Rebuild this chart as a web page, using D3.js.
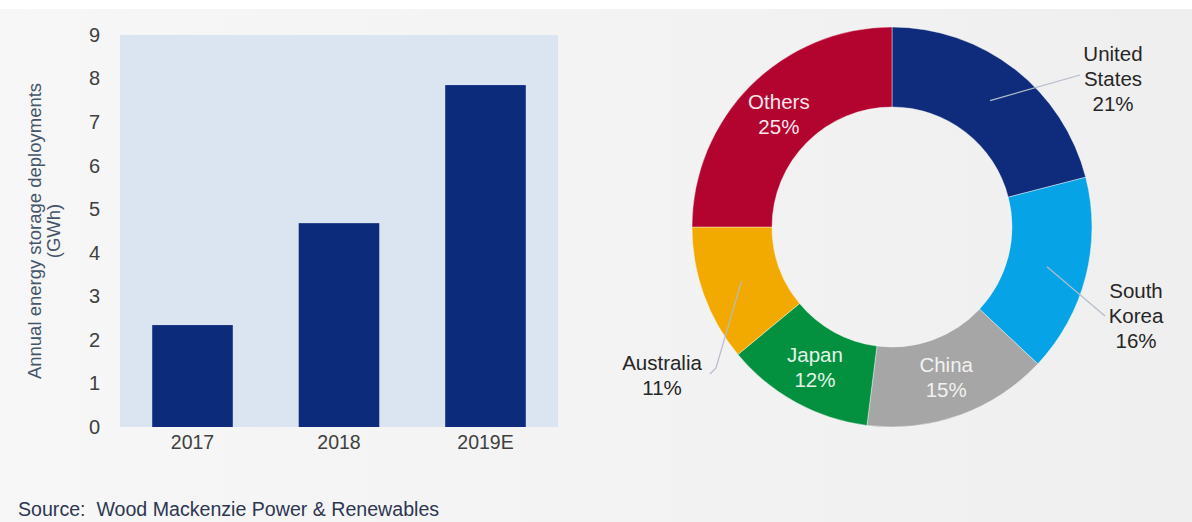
<!DOCTYPE html>
<html>
<head>
<meta charset="utf-8">
<script src="https://cdn.jsdelivr.net/npm/d3@7"></script>
<style>
body { margin: 0; background: #f2f2f2; }
svg { display: block; font-family: "Liberation Sans", Arial, sans-serif; }
</style>
</head>
<body>
<svg id="chart" width="1192" height="522"></svg>
<script>
// bar chart data
var years = ["2017", "2018", "2019E"];
var deployments = [2.34, 4.68, 7.85];
var yTicks = [0, 1, 2, 3, 4, 5, 6, 7, 8, 9];

// donut data (clockwise from 12 o'clock)
var countries = ["United States", "South Korea", "China", "Japan", "Australia", "Others"];
var shares = [21, 16, 15, 12, 11, 25];

var sliceColors = ["#0f2c7c", "#06a3e6", "#a6a6a6", "#04913f", "#f2a900", "#b3032f"];
var innerLabelColors = {"China": "#f2f2f2", "Japan": "#e4f5e8", "Others": "#fbe7ec"};

// outer label layout, offsets from donut centre
var outerLabels = {
    "United States": {tx: 221, ty: -173, line: [[188, -152]]},
    "South Korea": {tx: 244, ty: 64, line: [[213, 89]]},
    "Australia": {tx: -230, ty: 136, line: [[-176, 141], [-182, 147]]}
};

var svg = d3.select("#chart");

var defs = svg.append("defs");
var grad = defs.append("linearGradient").attr("id", "bg").attr("x1", 0).attr("x2", 1);
grad.append("stop").attr("offset", 0).attr("stop-color", "#f7f7f7");
grad.append("stop").attr("offset", 1).attr("stop-color", "#efefef");

svg.append("rect").attr("width", 1192).attr("height", 522).attr("fill", "url(#bg)");
svg.append("rect").attr("width", 1192).attr("height", 9).attr("fill", "#ffffff");

// ---------- bar chart ----------
var plot = {left: 120, right: 558, top: 35, bottom: 427};

var x = d3.scaleBand()
    .domain(years)
    .range([plot.left, plot.right])
    .paddingInner(0.45)
    .paddingOuter(0.22);

var y = d3.scaleLinear()
    .domain([0, 9])
    .range([plot.bottom, plot.top]);

svg.append("rect")
    .attr("x", plot.left)
    .attr("y", plot.top)
    .attr("width", plot.right - plot.left)
    .attr("height", plot.bottom - plot.top)
    .attr("fill", "#dbe5f1");

svg.selectAll("rect.bar")
    .data(years)
    .enter().append("rect")
    .attr("class", "bar")
    .attr("x", d => x(d))
    .attr("y", (d, i) => y(deployments[i]))
    .attr("width", x.bandwidth())
    .attr("height", (d, i) => y(0) - y(deployments[i]))
    .attr("fill", "#0d2b7b");

var yAxis = d3.axisLeft(y).tickValues(yTicks).tickSize(0).tickPadding(0);
var yG = svg.append("g")
    .attr("transform", "translate(100,0)")
    .call(yAxis);
yG.select(".domain").remove();
yG.selectAll("text")
    .attr("font-size", 20)
    .attr("fill", "#404040")
    .attr("font-family", "Liberation Sans, Arial, sans-serif");

var xAxis = d3.axisBottom(x).tickSize(0).tickPadding(0);
var xG = svg.append("g")
    .attr("transform", "translate(0," + plot.bottom + ")")
    .call(xAxis);
xG.select(".domain").remove();
xG.selectAll("text")
    .attr("y", 15)
    .attr("dy", "0.35em")
    .attr("font-size", 19.5)
    .attr("fill", "#404040")
    .attr("font-family", "Liberation Sans, Arial, sans-serif");

var yTitle = svg.append("text")
    .attr("transform", "translate(35,231) rotate(-90)")
    .attr("text-anchor", "middle")
    .attr("font-size", 18.5)
    .attr("fill", "#44546a");
yTitle.append("tspan").attr("x", 0).attr("dy", "0.35em").text("Annual energy storage deployments");
yTitle.append("tspan").attr("x", 0).attr("dy", 19).text("(GWh)");

svg.append("text")
    .attr("x", 18)
    .attr("y", 509)
    .attr("dy", "0.35em")
    .attr("font-size", 19.6)
    .attr("fill", "#2e3652")
    .text("Source:  Wood Mackenzie Power & Renewables")
    .attr("xml:space", "preserve")
    .style("white-space", "pre");

// ---------- donut ----------
var cx = 892, cy = 227, outerR = 200, innerR = 120;

var pie = d3.pie().sort(null).value(d => d);
var arcs = pie(shares);
var arc = d3.arc().innerRadius(innerR).outerRadius(outerR);

var donut = svg.append("g").attr("transform", "translate(" + cx + "," + cy + ")");

donut.selectAll("path")
    .data(arcs)
    .enter().append("path")
    .attr("d", arc)
    .attr("fill", (d, i) => sliceColors[i])
    .attr("stroke", "#ffffff")
    .attr("stroke-opacity", 0.5)
    .attr("stroke-width", 0.8);

arcs.forEach(function(a, i) {
    var name = countries[i];
    var pct = shares[i] + "%";
    var c = arc.centroid(a);
    var lay = outerLabels[name];
    var lines = name.split(" ").concat([pct]);

    if (lay) {
        var pts = [c].concat(lay.line);
        donut.append("path")
            .attr("d", d3.line()(pts))
            .attr("fill", "none")
            .attr("stroke", "#b4bccb")
            .attr("stroke-width", 1.2);
        var t = donut.append("text")
            .attr("text-anchor", "middle")
            .attr("font-size", 20.5)
            .attr("fill", "#262626");
        lines.forEach(function(l, j) {
            t.append("tspan")
                .attr("x", lay.tx)
                .attr("y", lay.ty + j * 25)
                .attr("dy", "0.35em")
                .text(l);
        });
    } else {
        var t2 = donut.append("text")
            .attr("text-anchor", "middle")
            .attr("font-size", 20.5)
            .attr("fill", innerLabelColors[name] || "#ffffff");
        lines.forEach(function(l, j) {
            t2.append("tspan")
                .attr("x", c[0])
                .attr("y", c[1] - 12.5 + j * 25)
                .attr("dy", "0.35em")
                .text(l);
        });
    }
});
</script>
</body>
</html>
